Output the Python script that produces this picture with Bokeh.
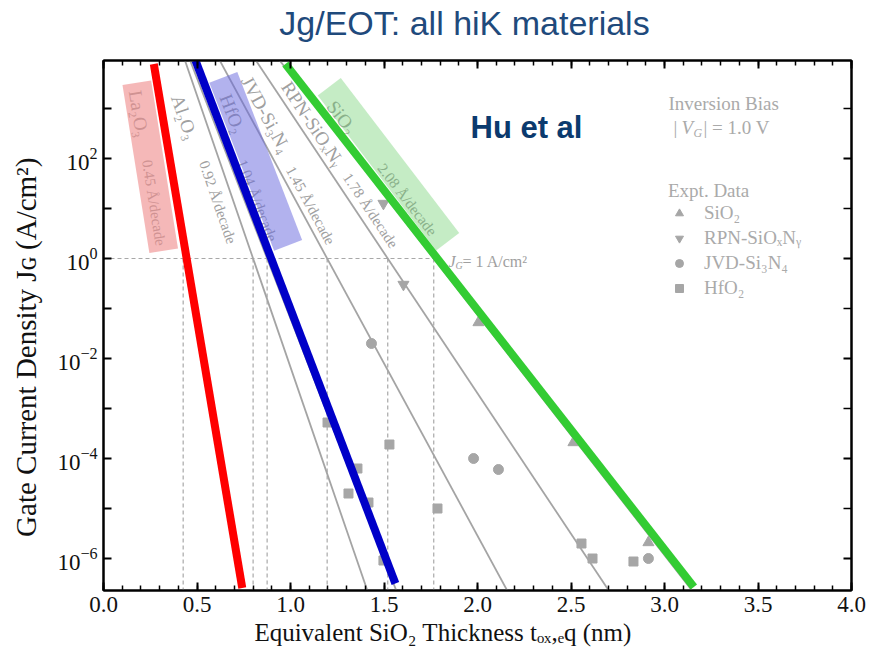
import math
from bokeh.plotting import figure
from bokeh.models import (Range1d, FixedTicker, LinearAxis, LogAxis, Label, Legend,
                          LegendItem, CustomJSTickFormatter)
from bokeh.core.properties import value
from bokeh.embed import file_html
from bokeh.resources import INLINE

# ---------------- data ----------------
# gray model lines: thickness (nm) at J = 1e4 (top) and at J = 1e-7 (bottom)
line_materials = ["Al2O3", "HfO2", "JVD-Si3N4", "RPN-SiOxNy", "SiO2"]
line_x_top = [0.432, 0.459, 0.616, 0.808, 0.934]
line_x_bottom = [1.444, 1.603, 2.211, 2.766, 3.222]
line_J_top = 1e4
line_J_bottom = 1e-7

# thickness at which each model reaches J = 1 A/cm^2 (dashed guides)
t_at_1A = [0.426, 0.80, 0.875, 1.196, 1.52, 1.766]

# highlighted (hand-drawn) lines: La2O3 red, HfO2 blue, SiO2 green
red_t = [0.269, 0.742]
red_J = [10 ** 3.89, 10 ** -6.59]
blue_t = [0.492, 1.561]
blue_J = [10 ** 3.96, 10 ** -6.50]
green_t = [0.973, 3.157]
green_J = [10 ** 3.89, 10 ** -6.57]

# experimental data
sio2_t = [2.005, 2.513, 2.914]
sio2_J = [10 ** -1.28, 10 ** -3.68, 10 ** -5.68]
rpn_t = [1.497, 1.604]
rpn_J = [10 ** 1.10, 10 ** -0.52]
jvd_t = [1.433, 1.979, 2.112, 2.914]
jvd_J = [10 ** -1.70, 10 ** -4.00, 10 ** -4.22, 10 ** -6.00]
hfo2_t = [1.198, 1.529, 1.358, 1.310, 1.417, 1.786, 1.497, 2.556, 2.615, 2.834]
hfo2_J = [10 ** -3.28, 10 ** -3.72, 10 ** -4.20, 10 ** -4.70, 10 ** -4.88,
          10 ** -5.00, 10 ** -6.04, 10 ** -5.70, 10 ** -6.00, 10 ** -6.06]

# axis ticks
x_ticks = [0.0, 0.5, 1.0, 1.5, 2.0, 2.5, 3.0, 3.5, 4.0]
x_tick_labels = ["0.0", "0.5", "1.0", "1.5", "2.0", "2.5", "3.0", "3.5", "4.0"]
x_minor = [i / 10 for i in range(0, 41)]
y_ticks = [1e-6, 1e-4, 1e-2, 1e0, 1e2]
y_minor = [1e-5, 1e-3, 1e-1, 1e1, 1e3]

# labels along the model lines
name_labels = ["La₂O₃", "Al₂O₃", "HfO₂", "JVD-Si₃N₄", "RPN-SiOₓNᵧ", "SiO₂"]
name_t = [0.189, 0.433, 0.691, 0.870, 1.119, 1.276]
name_logJ = [2.894, 2.826, 2.894, 2.880, 2.694, 2.826]
slope_labels = ["0.45 Å/decade", "0.92 Å/decade", "1.04 Å/decade",
                "1.45 Å/decade", "1.78 Å/decade", "2.08 Å/decade"]
slope_t = [0.269, 0.611, 0.822, 1.107, 1.428, 1.624]
slope_logJ = [1.114, 1.126, 1.160, 1.060, 0.960, 1.176]
label_angle_deg = [-80.9, -71.0, -68.7, -61.5, -56.3, -52.1]

# translucent highlight bands (center t, center logJ, width px, height px, angle deg)
band_t = [0.250, 0.814, 1.524]
band_logJ = [1.835, 1.943, 1.885]
band_w = [29, 30, 29]
band_h = [170, 180, 195]
band_angle = [9.1, 21.1, 37.4]
band_colors = ["#ee8888", "#6666dd", "#66cc66"]
band_alpha = [0.6, 0.5, 0.38]

# ---------------- figure ----------------
SERIF = "Liberation Serif"
SANS = "Liberation Sans"
GRAY = "#a6a6a6"
TXT_GRAY = "#a0a0a0"
LEG_GRAY = "#aaaaaa"
FL, FB = 103, 590  # frame left / bottom in canvas px
NB = "\u00a0"


def sx(cx):
    return cx - FL


def sy(cy):
    return FB - cy


p = figure(width=871, height=672, x_range=Range1d(0, 4),
           y_range=Range1d(10 ** -6.64, 10 ** 3.96), y_axis_type="log",
           output_backend="svg", toolbar_location=None, title_location=None,
           min_border_left=FL, min_border_right=20, min_border_top=60,
           min_border_bottom=82)
p.background_fill_color = "white"
p.border_fill_color = "white"
p.xgrid.visible = False
p.ygrid.visible = False
p.outline_line_color = "black"
p.outline_line_width = 2

xt = FixedTicker(ticks=x_ticks, minor_ticks=x_minor)
yt = FixedTicker(ticks=y_ticks, minor_ticks=y_minor)

xa = p.xaxis[0]
xa.ticker = xt
xa.major_label_overrides = {t: l for t, l in zip(x_ticks, x_tick_labels)}
ya = p.yaxis[0]
ya.ticker = yt

for ax in (xa, ya):
    ax.axis_line_width = 2
    ax.major_tick_in = 8
    ax.major_tick_out = 0
    ax.minor_tick_out = 0
    ax.major_tick_line_width = 2
    ax.minor_tick_line_width = 1.5
    ax.major_label_text_font = SERIF
    ax.major_label_text_font_size = "23px"
    ax.major_label_text_color = "#111111"
    ax.axis_label_text_font = SERIF
    ax.axis_label_text_font_style = "normal"
    ax.axis_label_text_color = "#111111"
xa.minor_tick_in = 5
ya.minor_tick_in = 8
ya.minor_tick_line_width = 2
xa.major_label_standoff = 6
ya.major_label_standoff = 6

xa.axis_label = "Equivalent SiO₂ Thickness  tₒₓ,ₑq (nm)" + NB * 10
xa.axis_label_text_font_size = "25px"
xa.axis_label_standoff = 4
ya.axis_label = "Gate Current Density  Jɢ (A/cm²)" + NB * 5
ya.axis_label_text_font_size = "29px"
ya.axis_label_standoff = 12

blank = CustomJSTickFormatter(code="return ''")
top = LinearAxis(ticker=xt, formatter=blank)
right = LogAxis(ticker=yt, formatter=blank)
for ax in (top, right):
    ax.axis_line_width = 2
    ax.major_tick_in = 8
    ax.major_tick_out = 0
    ax.minor_tick_out = 0
    ax.major_tick_line_width = 2
    ax.minor_tick_line_width = 1.5
    ax.major_label_standoff = 0
top.minor_tick_in = 5
right.minor_tick_in = 8
p.add_layout(top, "above")
p.add_layout(right, "right")

# chart title, placed in the top margin panel (not clipped to the frame)
p.add_layout(Label(x=361, y=38, x_units="screen", y_units="screen",
                   text="Jg/EOT: all hiK materials", text_font=SANS,
                   text_font_size="34px", text_color="#1F4A7C",
                   text_align="center", text_baseline="alphabetic"), "above")

# dashed guides at J = 1 A/cm^2
p.segment(x0=t_at_1A, y0=[1.0] * len(t_at_1A), x1=t_at_1A, y1=[line_J_bottom] * len(t_at_1A),
          line_color="#a8a8a8", line_width=1.2, line_dash="4 3")
p.segment(x0=[0.0], y0=[1.0], x1=[t_at_1A[-1] + 0.04], y1=[1.0],
          line_color="#a8a8a8", line_width=1.2, line_dash="4 3")

# gray model lines
p.segment(x0=line_x_top, y0=[line_J_top] * len(line_x_top),
          x1=line_x_bottom, y1=[line_J_bottom] * len(line_x_bottom),
          line_color="#a4a4a4", line_width=1.8)

# experimental data
r_sio2 = p.scatter(sio2_t, sio2_J, marker="triangle", size=11, color=GRAY)
r_rpn = p.scatter(rpn_t, rpn_J, marker="inverted_triangle", size=11, color=GRAY)
r_jvd = p.scatter(jvd_t, jvd_J, marker="circle", size=10, color=GRAY)
r_hfo2 = p.scatter(hfo2_t, hfo2_J, marker="square", size=9, color=GRAY)

# labels along the lines
p.text(x=name_t, y=[10 ** v for v in name_logJ], text=name_labels,
       angle=[math.radians(a) for a in label_angle_deg],
       text_font=value(SERIF), text_font_size="19px", text_color=TXT_GRAY,
       text_align="center", text_baseline="middle")
p.text(x=slope_t, y=[10 ** v for v in slope_logJ], text=slope_labels,
       angle=[math.radians(a) for a in label_angle_deg],
       text_font=value(SERIF), text_font_size="15px", text_color=TXT_GRAY,
       text_align="center", text_baseline="middle")

# translucent highlight bands
p.rect(x=band_t, y=[10 ** v for v in band_logJ], width=band_w, height=band_h,
       width_units="screen", height_units="screen",
       angle=[math.radians(a) for a in band_angle],
       fill_color=band_colors, fill_alpha=band_alpha, line_alpha=0)

# highlighted lines
p.line(red_t, red_J, line_color="#ff0000", line_width=8)
p.line(blue_t, blue_J, line_color="#0000c8", line_width=8)
p.line(green_t, green_J, line_color="#33cc33", line_width=8)


def lab(text, cx, cy, size, font=SERIF, color="black", style="normal", angle=0.0,
        align="left", baseline="alphabetic"):
    p.add_layout(Label(x=sx(cx), y=sy(cy), x_units="screen", y_units="screen",
                       text=text, text_font=font, text_font_size=f"{size}px",
                       text_color=color, text_font_style=style, angle=angle,
                       text_align=align, text_baseline=baseline))


lab("Hu et al", 470, 127, 31, font=SANS, color="#0B3A6E", style="bold")

# J_G = 1 A/cm2 note
lab("J", 448, 261, 16, color=TXT_GRAY, style="italic")
lab("G", 455, 265, 10, color=TXT_GRAY, style="italic")
lab(" = 1 A/cm²", 462, 261, 16, color=TXT_GRAY)

# inversion bias note
lab("Inversion Bias", 668, 103, 19, color=LEG_GRAY)
lab("|", 673, 127, 19, color=LEG_GRAY)
lab("V", 681, 127, 19, color=LEG_GRAY, style="italic")
lab("G", 693, 132, 12, color=LEG_GRAY, style="italic")
lab("| = 1.0 V", 703, 127, 19, color=LEG_GRAY)

# legend for experimental data
legend = Legend(items=[LegendItem(label="SiO₂", renderers=[r_sio2]),
                       LegendItem(label="RPN-SiOₓNᵧ", renderers=[r_rpn]),
                       LegendItem(label="JVD-Si₃N₄", renderers=[r_jvd]),
                       LegendItem(label="HfO₂", renderers=[r_hfo2])],
                location=(sx(668), sy(299)), title="Expt. Data",
                title_text_font=SERIF, title_text_font_size="19px",
                title_text_color=LEG_GRAY, title_text_font_style="normal",
                title_standoff=0,
                label_text_font=SERIF, label_text_font_size="19px",
                label_text_color=LEG_GRAY, glyph_width=22, glyph_height=20,
                label_height=20, spacing=3, padding=0, margin=0, label_standoff=14,
                background_fill_alpha=0, border_line_alpha=0)
p.add_layout(legend, "center")

open("out.html", "w").write(file_html(p, INLINE))
